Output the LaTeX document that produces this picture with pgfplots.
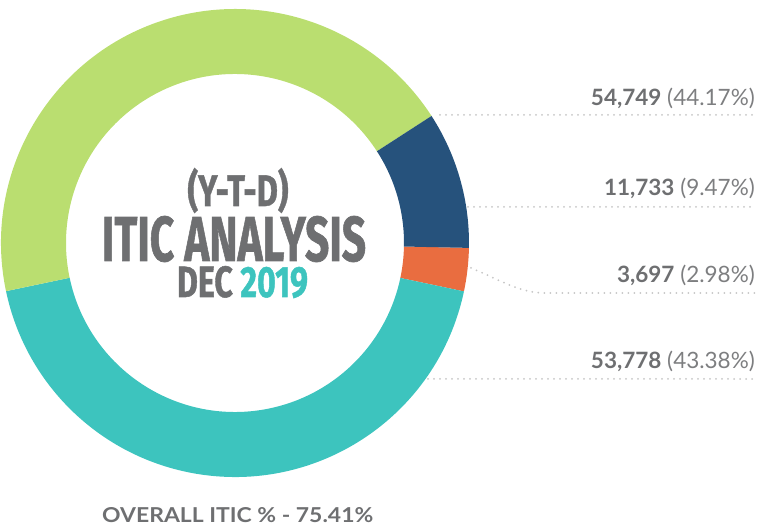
\documentclass[border=0pt]{standalone}
\usepackage{pgfplots}
\pgfplotsset{compat=1.18}
\usepackage{pgfplotstable}
\usepackage{graphicx}
\usepackage{fontspec}
\setmainfont{Lato}
\newfontfamily\condfont{Fira Sans}[BoldFeatures={FakeBold=1.2}]
\definecolor{greenC}{HTML}{BADE70}
\definecolor{blueC}{HTML}{26527C}
\definecolor{orangeC}{HTML}{E96D40}
\definecolor{tealC}{HTML}{3DC4BE}
\definecolor{txtgray}{HTML}{6E6F71}
\definecolor{pctgray}{HTML}{7D7E80}
\definecolor{dotgray}{HTML}{C6C6C6}
\newcommand\sector[3]{%
  \fill[#1] (axis cs:235,286) ++(#2:234pt) arc[start angle=#2, end angle=#3, radius=234pt]
    -- ++(#3:-65pt) arc[start angle=#3, end angle=#2, radius=169pt] -- cycle;}
\begin{document}
\begin{tikzpicture}
\pgfplotstableread{
label value
orange 3697
teal 53778
green 54749
blue 11733
}\datatable
\pgfplotstablegetelem{0}{value}\of\datatable\edef\vA{\pgfplotsretval}
\pgfplotstablegetelem{1}{value}\of\datatable\edef\vB{\pgfplotsretval}
\pgfplotstablegetelem{2}{value}\of\datatable\edef\vC{\pgfplotsretval}
\pgfplotstablegetelem{3}{value}\of\datatable\edef\vD{\pgfplotsretval}
\edef\total{\fpeval{\vA+\vB+\vC+\vD}}
\def\aZ{-1.2}
\edef\aA{\fpeval{\aZ-360*\vA/\total}}
\edef\aB{\fpeval{\aA-360*\vB/\total}}
\edef\aC{\fpeval{\aB-360*\vC/\total}}
\edef\aD{\fpeval{\aC-360*\vD/\total}}
\begin{axis}[x=1pt,y=1pt,xmin=0,xmax=758,ymin=0,ymax=529,hide axis,clip=false,scale only axis]
\coordinate (BL) at (axis cs:0,0);
\coordinate (TR) at (axis cs:758,529);
\sector{orangeC}{\aZ}{\aA}
\sector{tealC}{\aA}{\aB}
\sector{greenC}{\aB}{\aC}
\sector{blueC}{\aC}{\aD}
% leader lines
\begin{scope}[dotgray, line width=2pt, line cap=round, dash pattern=on 0pt off 6pt]
\draw (axis cs:440,414) -- (axis cs:755,414);
\draw (axis cs:468,322) -- (axis cs:755,322);
\draw (axis cs:471,261) .. controls (axis cs:500,249) and (axis cs:520,236) .. (axis cs:545,236) -- (axis cs:755,236);
\draw (axis cs:428,150) -- (axis cs:755,150);
\end{scope}
% labels
\node[anchor=base east, inner sep=0] at (axis cs:755,423) {\fontsize{22.5}{22}\selectfont\textcolor{txtgray}{\bfseries 54,749} \textcolor{pctgray}{(44.17\%)}};
\node[anchor=base east, inner sep=0] at (axis cs:755,333) {\fontsize{22.5}{22}\selectfont\textcolor{txtgray}{\bfseries 11,733} \textcolor{pctgray}{(9.47\%)}};
\node[anchor=base east, inner sep=0] at (axis cs:755,246) {\fontsize{22.5}{22}\selectfont\textcolor{txtgray}{\bfseries 3,697} \textcolor{pctgray}{(2.98\%)}};
\node[anchor=base east, inner sep=0] at (axis cs:755,160) {\fontsize{22.5}{22}\selectfont\textcolor{txtgray}{\bfseries 53,778} \textcolor{pctgray}{(43.38\%)}};
% title
\node[anchor=base, inner sep=0, text=txtgray] at (axis cs:238,323) {\resizebox{101pt}{38pt}{\condfont\bfseries (Y-T-D)}};
\node[anchor=base, inner sep=0, text=txtgray] at (axis cs:234,268) {\resizebox{264pt}{45pt}{\condfont\bfseries ITIC ANALYSIS}};
\node[anchor=base, inner sep=0, text=txtgray] at (axis cs:242.5,232) {\resizebox{131pt}{31pt}{\condfont\bfseries DEC \textcolor{tealC}{2019}}};
\node[anchor=base west, inner sep=0, text=txtgray] at (axis cs:102,6) {\resizebox{271pt}{15pt}{\bfseries OVERALL ITIC \% - 75.41\%}};
\end{axis}
\pgfresetboundingbox
\path[use as bounding box] (BL) rectangle (TR);
\end{tikzpicture}
\end{document}
